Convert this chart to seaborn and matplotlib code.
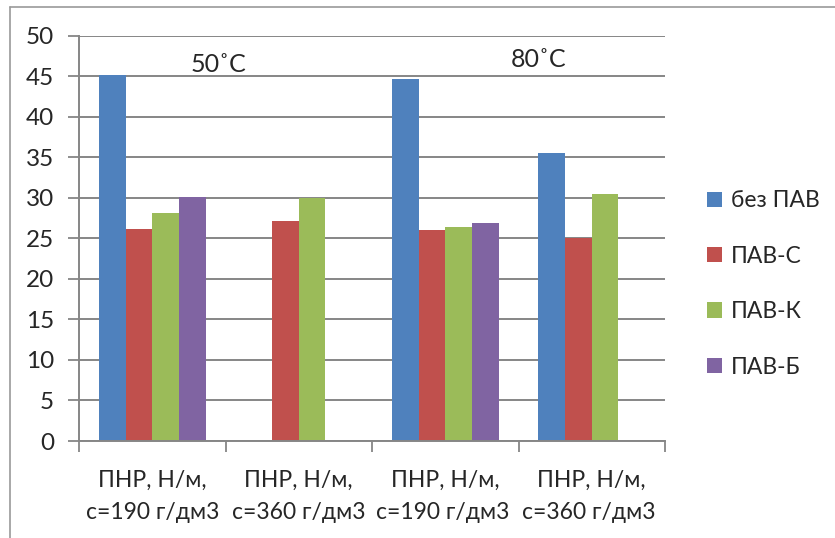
import matplotlib
matplotlib.use("Agg")
import matplotlib.pyplot as plt
import seaborn as sns
import pandas as pd
import numpy as np
from matplotlib.lines import Line2D

categories = ["ПНР, Н/м,\nс=190 г/дм3", "ПНР, Н/м,\nс=360 г/дм3",
              "ПНР, Н/м,\nс=190 г/дм3 ", "ПНР, Н/м,\nс=360 г/дм3 "]
series = ["без ПАВ", "ПАВ-С", "ПАВ-К", "ПАВ-Б"]
bez_pav = [45.1, np.nan, 44.6, 35.5]
pav_s = [26.1, 27.2, 26.0, 25.1]
pav_k = [28.1, 30.0, 26.4, 30.5]
pav_b = [30.1, np.nan, 26.9, np.nan]
colors = ["#4F81BD", "#C0504D", "#9BBB59", "#8064A2"]
yticks = [0, 5, 10, 15, 20, 25, 30, 35, 40, 45, 50]

rows = []
for s, vals in zip(series, [bez_pav, pav_s, pav_k, pav_b]):
    for c, v in zip(categories, vals):
        if not np.isnan(v):
            rows.append({"cat": c, "series": s, "value": v})
df = pd.DataFrame(rows)

sns.set_theme(style="white")
plt.rcParams['font.family'] = ['Lato', 'DejaVu Sans']

fig = plt.figure(figsize=(8.35, 5.38), dpi=100)
ax = fig.add_axes([79/835, 1-441/538, (665-79)/835, (441-35.7)/538])

sns.barplot(data=df, x="cat", y="value", hue="series", order=categories,
            hue_order=series, palette=colors, width=4/5.5, dodge=True,
            linewidth=0, saturation=1, ax=ax, legend=True, errorbar=None)

FS = 16.5
ax.set_ylim(0, 50)
ax.set_xlim(-0.5, 3.5)
ax.set_yticks(yticks)
ax.set_yticklabels([str(t) for t in yticks], fontsize=17.5)
ax.set_xlabel("")
ax.set_ylabel("")
ax.tick_params(axis='x', labelsize=FS, pad=21, length=0)
ax.tick_params(axis='y', length=8, width=1.3, color="#868686", pad=10, left=True)
for lab in ax.get_xticklabels():
    lab.set_linespacing(1.64)

gc = "#868686"
ax.yaxis.grid(True, color=gc, linewidth=1.4)
ax.set_axisbelow(True)
for s in ["top", "right"]:
    ax.spines[s].set_visible(False)
for s in ["left", "bottom"]:
    ax.spines[s].set_color(gc)
    ax.spines[s].set_linewidth(1.4)

# category boundary tick marks on x axis
ax.set_xticks([-0.5, 0.5, 1.5, 2.5, 3.5], minor=True)
ax.tick_params(axis='x', which='minor', length=8, width=1.3, color=gc, bottom=True)

ax.text(0.45, 46.5, "50˚C", fontsize=18, ha="center", va="center")
ax.text(2.64, 47.1, "80˚C", fontsize=18, ha="center", va="center")

handles, labels = ax.get_legend_handles_labels()
ax.get_legend().remove()
fig.legend(handles, labels, loc="center left", bbox_to_anchor=(707/835, 1-284/538),
           frameon=False, fontsize=FS, handlelength=0.65, handleheight=0.65,
           handletextpad=0.4, labelspacing=1.5, borderpad=0, borderaxespad=0)

# outer chart frame (top and left visible)
fig.add_artist(Line2D([9.5/835, 9.5/835], [0, 1-6.5/538], transform=fig.transFigure,
                      color="#9a9a9a", linewidth=1.2))
fig.add_artist(Line2D([9.5/835, 1], [1-6.5/538, 1-6.5/538], transform=fig.transFigure,
                      color="#9a9a9a", linewidth=1.2))

fig.savefig("out.png", dpi=100, facecolor="white")
